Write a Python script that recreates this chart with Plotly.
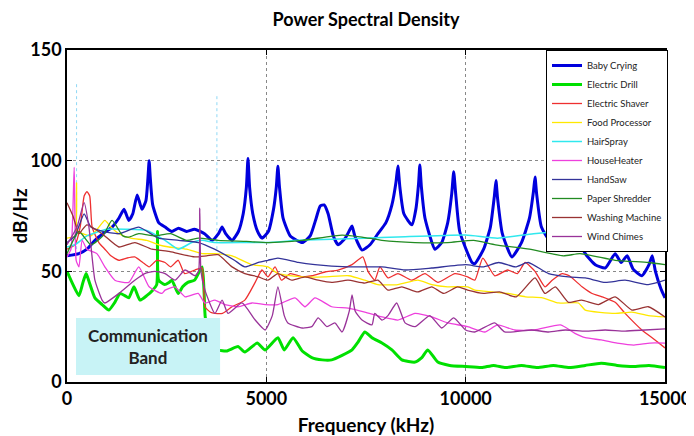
import plotly.graph_objects as go

# ---------------- data (frequency in Hz, level in dB/Hz) ----------------
baby_f = [0, 300, 500, 700, 900, 1130, 1300, 1430, 1550, 1650, 1760, 1880, 1980, 2030, 2060, 2090, 2150, 2300,
          2460, 2630, 2800, 3000, 3200, 3450, 3640, 3800, 3890, 3980, 4140, 4300, 4420, 4500, 4540, 4580, 4660,
          4780, 4890, 5050, 5180, 5250, 5290, 5330, 5420, 5600, 5900, 6100, 6250, 6350, 6450, 6550, 6680, 6800,
          6980, 7100, 7150, 7220, 7400, 7600, 7800, 8000, 8150, 8250, 8300, 8350, 8450, 8650, 8750, 8820, 8850,
          8890, 8980, 9230, 9400, 9550, 9650, 9700, 9750, 9850, 10160, 10230, 10450, 10620, 10720, 10760, 10800,
          10920, 11160, 11400, 11600, 11700, 11740, 11780, 11900, 12110, 12350, 12550, 12700, 12850, 13000,
          13250, 13500, 13750, 13900, 14050, 14200, 14420, 14600, 14680, 14760, 14900, 15000]
baby_db = [57, 58, 60, 64, 67, 70, 74, 78, 73, 76, 84.5, 78, 82, 92, 100, 92, 80, 72,
           70, 68, 69.5, 68, 69, 67, 64, 67, 70, 67, 64, 68, 76, 88, 101, 88, 76,
           68, 65, 68, 78, 88, 97.5, 88, 74, 66, 63, 66, 74, 79.5, 80, 76, 66, 62,
           65, 69, 70.5, 66, 59.6, 62, 67, 72, 80, 90, 97.6, 88, 76, 71, 78, 90, 98,
           88, 74, 60, 63, 72, 85, 95, 85, 68, 54, 53.5, 60, 70, 84, 91, 83,
           67, 56.5, 63, 74, 86, 92.6, 85, 70, 64, 66, 72, 80, 64, 58,
           53, 51.5, 58, 54, 57, 51, 48, 53, 57, 50, 42, 38]

drill_f = [0, 150, 300, 400, 480, 560, 700, 880, 1050, 1200, 1330, 1450, 1550, 1680, 1830, 2000, 2150, 2250,
           2270, 2300, 2450, 2560, 2630, 2790, 2900, 3030, 3200, 3390, 3440, 3470, 3600, 3800, 4000, 4290, 4460,
           4770, 4970, 5290, 5450, 5670, 5900, 6140, 6400, 6640, 6900, 7150, 7300, 7470, 7650, 7900, 8150, 8400,
           8730, 8900, 9050, 9300, 9600, 10000, 10400, 10700, 11000, 11400, 11800, 12200, 12600, 13000, 13400,
           13800, 14200, 14600, 15000]
drill_db = [50, 44, 39, 45, 49, 45, 38, 35, 32.5, 36, 40, 39, 38, 43, 37, 39, 41.5, 44,
            68, 46, 44, 45, 46, 40, 43, 45, 46, 52, 40, 29, 22, 14.5, 14, 16, 13.5,
            17.6, 14.5, 20, 14.5, 20, 14, 11, 10, 10, 12, 14.5, 18, 22.6, 20, 17.6, 14.5, 10,
            9, 11, 14.5, 9, 7.5, 7, 6.5, 7.5, 6.5, 7.5, 6.5, 7.5, 6.5, 7.5, 8.5,
            7.5, 7, 7.5, 6.5]

shaver_f = [0, 200, 330, 430, 500, 570, 630, 800, 950, 1100, 1300, 1500, 1700, 1900, 2060, 2250, 2460, 2600,
            2790, 2950, 3210, 3390, 3460, 3600, 3710, 3900, 4140, 4460, 4720, 4890, 5040, 5220, 5380, 5600,
            5900, 6150, 6470, 6800, 7150, 7420, 7550, 7720, 7850, 8050, 8300, 8650, 8980, 9300, 9730, 10050,
            10230, 10430, 10730, 11050, 11300, 11490, 11740, 11990, 12170, 12420, 12600, 12920, 13170, 13420,
            13750, 14000, 14420, 14750, 15000]
shaver_db = [60, 62, 70, 84, 86, 84, 70, 63, 60, 57, 55, 56, 56.5, 54, 52, 55, 54, 52,
             55, 49, 50.6, 51.5, 34, 31.5, 31, 31, 34, 37, 45, 50.6, 47.5, 52, 46, 49,
             47.5, 48, 49.7, 50.6, 53, 56.5, 50, 46, 52, 47, 49, 46, 49, 45, 49, 47.5,
             46, 56, 48, 50.6, 49, 54, 50, 43, 46, 49, 48, 43, 40, 38.5,
             36, 31, 23.5, 19, 15.4]

food_f = [0, 200, 240, 260, 400, 600, 800, 950, 1100, 1300, 1600, 2000, 2300, 2560, 3000, 3390, 3710, 4140,
          4640, 5040, 5290, 5920, 6470, 7070, 7470, 7800, 8300, 8800, 9150, 9550, 10050, 10230, 10670, 11070,
          11500, 11930, 12330, 12830, 13000, 13750, 14170, 14580, 15000]
food_db = [65, 66, 90, 68, 67, 66, 70, 73, 70, 67, 65, 64, 62, 61, 60, 58, 58, 57,
           53, 52, 49, 47.5, 47.5, 48, 46, 44, 44, 46, 44, 43, 43, 41.5, 40.7, 40,
           38.5, 38, 35.7, 35.7, 32.5, 31, 31.6, 30, 29.4]

hair_f = [0, 200, 500, 1000, 1500, 2000, 2460, 2790, 3130, 3390, 3710, 4500, 5040, 5800, 7470, 8300, 10000,
          10800, 11700, 12500, 13750, 15000]
hair_db = [61, 62, 66, 69, 69, 68.5, 64, 60, 63, 64, 63, 63, 63, 64, 65, 65.5, 66.4,
           65, 67, 68, 65.5, 64]
hair_spike_f = [240, 3760]
hair_spike_db = [135, 130]

heater_f = [0, 100, 180, 230, 300, 380, 500, 750, 950, 1200, 1550, 1800, 2060, 2380, 2460, 2710, 2960, 3290,
            3460, 3710, 3960, 4290, 4640, 4970, 5290, 5720, 5970, 6220, 6640, 7050, 7470, 7900, 8300, 8730,
            9150, 9550, 10050, 10480, 10800, 11230, 11730, 12380, 12740, 13000, 13400, 13800, 14220, 14620,
            15000]
heater_db = [56.5, 60, 97, 55, 52, 64, 60, 58, 52, 46, 45, 52, 43, 40, 41.5, 43, 38.5, 40,
             35.7, 37, 35, 34, 35.7, 35, 35, 38, 34, 38, 34, 33.4, 31.6, 29.4, 28, 31,
             29.4, 26.7, 25, 22.6, 25.8, 23.5, 23.5, 25.8, 22, 20, 19, 17.6, 16.7, 17.6,
             17.6]

saw_f = [0, 200, 430, 600, 900, 1300, 1800, 2300, 2800, 3300, 3700, 4200, 4460, 4800, 5040, 5290, 5800, 6220,
         7050, 7570, 7900, 8480, 9150, 10000, 10430, 10830, 11250, 11570, 12080, 12580, 13000, 13500, 14000,
         14580, 15000]
saw_db = [63, 66, 76, 70, 68, 67, 70, 65, 64, 63, 60, 55, 52, 54, 55, 56, 54, 53,
          52, 52, 52, 50.6, 51.5, 53, 52, 54, 52, 54, 49, 47.5, 47, 45, 46,
          44, 46]

shred_f = [0, 300, 600, 900, 1130, 1400, 1550, 1800, 2200, 2600, 3000, 3300, 3790, 4500, 5040, 5900, 6900,
           7400, 7900, 8730, 9550, 10200, 10750, 11600, 12450, 12870, 13750, 14580, 15000]
shred_db = [58, 68, 62, 66, 73, 66, 65.5, 67, 66, 67, 64, 65, 64, 63.5, 63, 64, 66.4,
            65.5, 64, 63, 63, 64, 62, 60, 57, 58, 55, 54, 53]

wash_f = [0, 150, 300, 380, 500, 880, 1300, 1700, 2130, 2560, 2800, 3210, 3500, 3790, 4140, 4460, 4800, 5040,
          5290, 5640, 5970, 6300, 6640, 7050, 7470, 7800, 8050, 8400, 8800, 9150, 9450, 9800, 10050, 10450,
          10850, 11270, 11740, 11990, 12250, 12580, 12910, 13330, 13750, 14170, 14580, 15000]
wash_db = [81, 75, 67, 68.7, 71, 67, 61, 63, 60, 59, 58, 56.5, 57, 57.5, 52, 49, 47.5, 46,
           49, 46, 47.5, 46, 45, 46, 44.7, 46, 41.5, 43, 40.7, 43, 40, 43, 41.5, 40,
           40.7, 38.5, 47, 40, 43, 36, 37, 35, 38.5, 32.5, 34, 29.4]

chimes_f = [0, 250, 430, 550, 700, 880, 950, 1300, 1700, 1950, 2200, 2460, 2710, 2960, 3210, 3300, 3330, 3360,
            3460, 3710, 3890, 4040, 4390, 4720, 4970, 5150, 5290, 5450, 5540, 5900, 6140, 6300, 6520, 6720,
            6900, 7080, 7150, 7230, 7400, 7650, 7720, 7900, 8050, 8270, 8480, 8730, 9100, 9400, 9700, 10000,
            10230, 10730, 10980, 11650, 12080, 12500, 13000, 13500, 14000, 14500, 15000]
chimes_db = [62, 70, 81, 70, 46, 37, 35.7, 40, 46, 49, 50, 49, 46, 50.6, 48, 50, 78.6, 50,
             41.5, 31, 37, 31, 35.7, 28, 23.5, 30, 43, 30, 26.7, 24.4, 25, 29, 25, 26.7,
             22.6, 32, 39.3, 32, 28, 25.8, 31, 28, 30, 35.7, 26.7, 25, 30, 24.4, 29, 23.5,
             22.6, 26.7, 22.6, 23.5, 22.6, 23.5, 23, 23.5, 23, 23.5, 24]

band_hz = [226, 3840]
band_db = [3.2, 28.9]
band_label = "Communication<br>Band"

x_ticks = [0, 5000, 10000, 15000]
y_ticks = [0, 50, 100, 150]

# ---------------- figure ----------------
series = [
    ("Baby Crying", baby_f, baby_db, "#0000dd", 3),
    ("Electric Drill", drill_f, drill_db, "#00e000", 3),
    ("Electric Shaver", shaver_f, shaver_db, "#ee3030", 1.3),
    ("Food Processor", food_f, food_db, "#ffe800", 1.3),
    ("HairSpray", hair_f, hair_db, "#30e8ee", 1.5),
    ("HouseHeater", heater_f, heater_db, "#ee40dd", 1.3),
    ("HandSaw", saw_f, saw_db, "#333399", 1.3),
    ("Paper Shredder", shred_f, shred_db, "#228b22", 1.3),
    ("Washing Machine", wash_f, wash_db, "#993333", 1.3),
    ("Wind Chimes", chimes_f, chimes_db, "#993399", 1.3),
]

fig = go.Figure()

# thin spikes of the hair-spray spectrum
sx, sy = [], []
for f, d in zip(hair_spike_f, hair_spike_db):
    sx += [f, f, None]
    sy += [60, d, None]
fig.add_trace(go.Scatter(x=sx, y=sy, mode="lines", showlegend=False, hoverinfo="skip",
                         line=dict(color="#8fd8f5", width=1, dash="dot")))

for name, f, d, c, w in series:
    fig.add_trace(go.Scatter(x=f, y=d, mode="lines", name=name,
                             line=dict(color=c, width=w, shape="spline", smoothing=0.5)))

fig.add_shape(type="rect", xref="x", yref="y", x0=band_hz[0], x1=band_hz[1],
              y0=band_db[0], y1=band_db[1], fillcolor="#c8f3f6", line=dict(width=0), layer="above")
fig.add_annotation(x=(band_hz[0] + band_hz[1]) / 2, y=(band_db[0] + band_db[1]) / 2, xref="x", yref="y",
                   text=band_label, showarrow=False,
                   font=dict(family="Lato", size=17, color="#222222", weight="bold"))

axis_common = dict(showline=True, linecolor="black", linewidth=1.5, mirror="allticks",
                   ticks="inside", ticklen=5, tickcolor="black", automargin=False,
                   showgrid=True, gridcolor="#888888", gridwidth=1, griddash="dot",
                   zeroline=False,
                   tickfont=dict(family="Lato", size=18, color="black", weight="bold"))

fig.update_xaxes(range=[0, 15000], tickvals=x_ticks, ticktext=[str(v) for v in x_ticks],
                 title=dict(text="Frequency (kHz)", standoff=10,
                            font=dict(family="Lato", size=19, color="black", weight="bold")),
                 **axis_common)
fig.update_yaxes(range=[0, 150], tickvals=y_ticks, ticktext=[str(v) for v in y_ticks],
                 title=dict(text="dB/Hz", standoff=6,
                            font=dict(family="Lato", size=19, color="black", weight="bold")),
                 **axis_common)

fig.update_layout(
    width=694, height=436,
    margin=dict(l=59, r=37, t=42, b=62),
    paper_bgcolor="white", plot_bgcolor="white",
    title=dict(text="Power Spectral Density", x=0.5, xref="paper", xanchor="center", y=0.973,
               yanchor="middle", yref="container",
               font=dict(family="Lato", size=18, color="black", weight="bold")),
    legend=dict(x=1.005, xanchor="right", y=1, yanchor="top", bgcolor="white",
                bordercolor="black", borderwidth=1, tracegroupgap=0,
                font=dict(family="Lato", size=9.5, color="#222222"), itemwidth=30),
    showlegend=True,
)

fig.write_html("out.html")
